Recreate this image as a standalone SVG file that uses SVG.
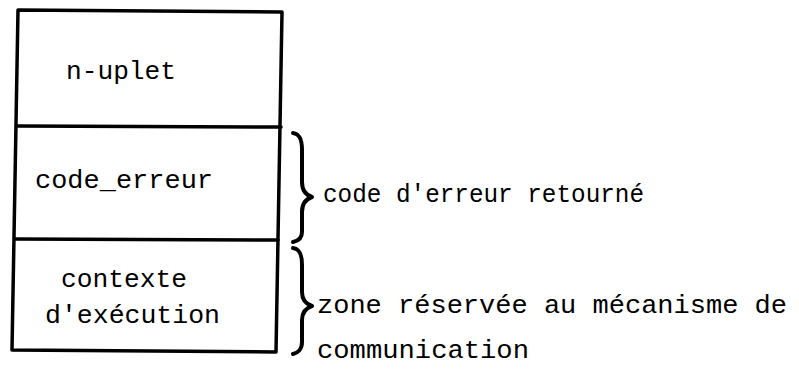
<svg xmlns="http://www.w3.org/2000/svg" width="799" height="373" viewBox="0 0 799 373">
  <style>
    .frame { fill: none; stroke: #000; stroke-width: 3.5; stroke-linejoin: round; stroke-linecap: round; }
    .brace { fill: none; stroke: #000; stroke-width: 4; stroke-linecap: round; stroke-linejoin: round; }
    text { font-family: "Liberation Mono", "DejaVu Sans Mono", monospace; font-size: 25px; fill: #000; }
  </style>
  <rect x="0" y="0" width="799" height="373" fill="#fff"/>
  <g id="structure">
    <path class="frame" d="M18,10 L282,12 L276,352 L12,350 Z"/>
  </g>
  <g id="node-nuplet">
    <text x="66" y="79" textLength="110" lengthAdjust="spacingAndGlyphs">n-uplet</text>
  </g>
  <g id="node-code-erreur">
    <path class="frame" d="M17,126 L281,127"/>
    <text x="35" y="188" textLength="178" lengthAdjust="spacingAndGlyphs">code_erreur</text>
  </g>
  <g id="node-contexte">
    <path class="frame" d="M15,239 L278,240"/>
    <text x="61" y="287" textLength="126" lengthAdjust="spacingAndGlyphs">contexte</text>
    <text x="45" y="323" textLength="175" lengthAdjust="spacingAndGlyphs">d'exécution</text>
  </g>
  <g id="connectors">
    <path class="brace" d="M293,133 C300,134 302,140 302,150 L302,182 C302,190 306,195 312,197 C306,199 302,204 302,212 L302,232 C302,238 298,241 293,242"/>
    <path class="brace" d="M293,248 C300,249 302,255 302,265 L302,292 C302,300 306,304 312,306 C306,308 302,312 302,320 L302,342 C302,349 298,353 293,354"/>
  </g>
  <g id="label-code-retourne">
    <text x="323" y="202" textLength="321" lengthAdjust="spacingAndGlyphs">code d'erreur retourné</text>
  </g>
  <g id="label-zone-reservee">
    <text x="317" y="313" textLength="470" lengthAdjust="spacingAndGlyphs">zone réservée au mécanisme de</text>
    <text x="317" y="358" textLength="212" lengthAdjust="spacingAndGlyphs">communication</text>
  </g>
</svg>
